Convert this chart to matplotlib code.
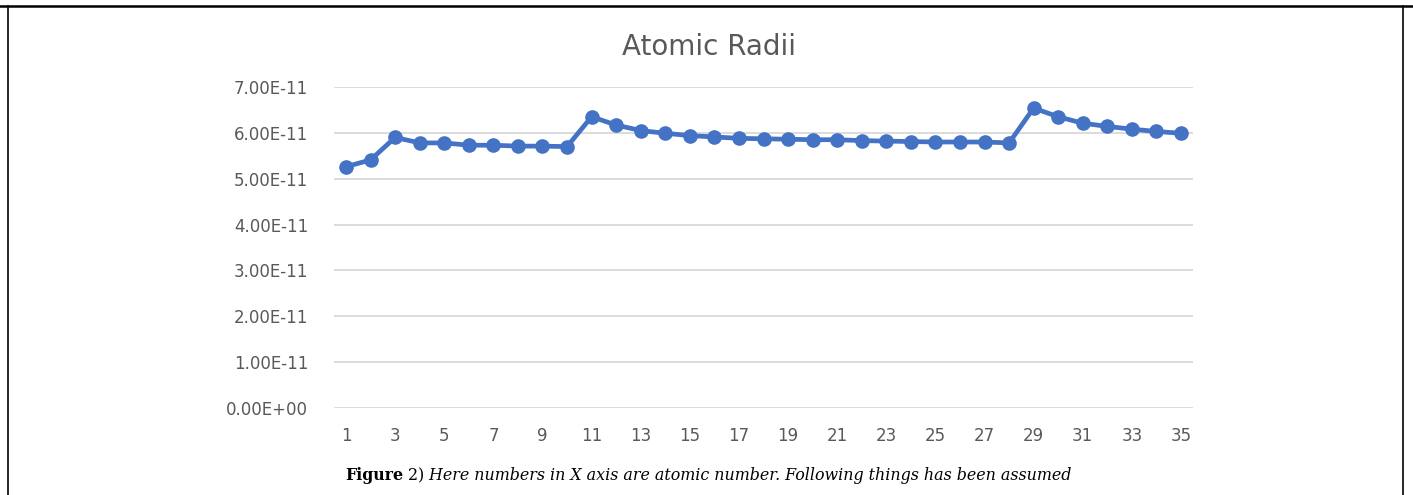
import matplotlib.pyplot as plt
from matplotlib.ticker import FuncFormatter
from matplotlib.lines import Line2D

atomic_number = list(range(1, 36))
radius = [5.26e-11, 5.41e-11, 5.90e-11, 5.78e-11, 5.78e-11, 5.73e-11, 5.73e-11,
          5.71e-11, 5.71e-11, 5.70e-11, 6.35e-11, 6.17e-11, 6.05e-11, 5.99e-11,
          5.94e-11, 5.91e-11, 5.88e-11, 5.87e-11, 5.86e-11, 5.85e-11, 5.85e-11,
          5.83e-11, 5.82e-11, 5.81e-11, 5.80e-11, 5.80e-11, 5.80e-11, 5.78e-11,
          6.54e-11, 6.35e-11, 6.21e-11, 6.14e-11, 6.08e-11, 6.03e-11, 5.99e-11]
tick_labels = [str(n) for n in range(1, 36, 2)]

grey = '#595959'
blue = '#4472C4'

fig = plt.figure(figsize=(14.13, 4.95), dpi=100)
fig.patch.set_facecolor('white')
ax = fig.add_axes([0.2362, 0.1758, 0.6083, 0.6485])

ax.plot(atomic_number, radius, color=blue, lw=3.4, marker='o', ms=9.5,
        solid_capstyle='round', solid_joinstyle='round')

ax.set_xlim(0.5, 35.5)
ax.set_ylim(0, 7e-11)
ax.set_yticks([i * 1e-11 for i in range(8)])
ax.yaxis.set_major_formatter(FuncFormatter(lambda v, p: f'{v:.2E}'))
ax.set_xticks(list(range(1, 36, 2)))
ax.set_xticklabels(tick_labels)
ax.yaxis.get_offset_text().set_visible(False)

for s in ax.spines.values():
    s.set_visible(False)
ax.grid(axis='y', color='#D9D9D9', lw=1.3)
ax.set_axisbelow(True)
ax.tick_params(length=0, colors=grey, labelsize=12)
ax.tick_params(axis='y', pad=18.5)
ax.tick_params(axis='x', pad=13.5)
for lab in ax.get_xticklabels() + ax.get_yticklabels():
    lab.set_family('DejaVu Sans')

fig.text(0.502, 0.905, 'Atomic Radii', ha='center', va='center',
         color=grey, fontsize=20, family='DejaVu Sans')

# caption in three pieces
t1 = fig.text(0.244, 0.03, 'Figure', ha='left', va='baseline',
              fontsize=11.4, weight='bold', family='DejaVu Serif', color='black')
t2 = ax.annotate(' 2)', xy=(1, 0), xycoords=t1, va='bottom', ha='left',
                 fontsize=11.4, family='DejaVu Serif', color='black',
                 annotation_clip=False)
t3 = ax.annotate(' Here numbers in X axis are atomic number. Following things has been assumed',
                 xy=(1, 0), xycoords=t2, va='bottom', ha='left',
                 fontsize=11.4, style='italic', family='DejaVu Serif', color='black',
                 annotation_clip=False)

# outer frame
fig.add_artist(Line2D([0.0, 1.0], [0.988, 0.988], transform=fig.transFigure, color='black', lw=1.8))
fig.add_artist(Line2D([0.0057, 0.0057], [0.0, 0.988], transform=fig.transFigure, color='black', lw=1.2))
fig.add_artist(Line2D([0.993, 0.993], [0.0, 0.988], transform=fig.transFigure, color='black', lw=1.2))

fig.savefig('out.png', dpi=100)
